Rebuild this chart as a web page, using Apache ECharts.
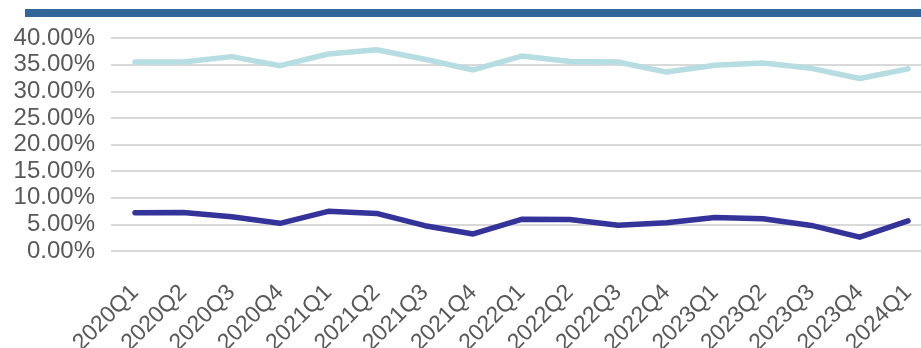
<!DOCTYPE html>
<html>
<head>
<meta charset="utf-8">
<script src="https://cdn.jsdelivr.net/npm/echarts@6/dist/echarts.min.js"></script>
<style>
  html, body { margin: 0; padding: 0; background: #fff; }
  #chart { width: 921px; height: 348px; }
</style>
</head>
<body>
<div id="chart"></div>
<script>
// Quarterly categories
const quarters = [
  '2020Q1', '2020Q2', '2020Q3', '2020Q4',
  '2021Q1', '2021Q2', '2021Q3', '2021Q4',
  '2022Q1', '2022Q2', '2022Q3', '2022Q4',
  '2023Q1', '2023Q2', '2023Q3', '2023Q4',
  '2024Q1'
];

// Upper ratio series (%)
const upperSeries = [
  35.5, 35.5, 36.5, 34.8, 37.0, 37.8, 36.0, 34.0,
  36.6, 35.6, 35.5, 33.6, 34.9, 35.3, 34.3, 32.4, 34.2
];

// Lower ratio series (%)
const lowerSeries = [
  7.2, 7.25, 6.45, 5.2, 7.45, 7.05, 4.75, 3.2,
  5.95, 5.9, 4.85, 5.3, 6.3, 6.05, 4.8, 2.6, 5.65
];

// Value axis ticks
const yTicks = { min: 0, max: 40, step: 5 };

const chart = echarts.init(document.getElementById('chart'), null, { renderer: 'canvas' });

const labelFont = '"Liberation Sans", Arial, sans-serif';
const plotTop = 38;
const plotHeight = 213;

chart.setOption({
  animation: false,
  backgroundColor: '#ffffff',
  graphic: [
    {
      type: 'rect',
      left: 25,
      top: 9,
      shape: { width: 900, height: 8 },
      style: { fill: '#326699' },
      silent: true
    }
  ],
  grid: [
    // background grid: tick labels and horizontal gridlines across the full width
    { left: 111, right: 0, top: plotTop, height: plotHeight, containLabel: false, outerBoundsMode: 'none' },
    // data grid: first/last quarter sit half a step inside the gridlines
    { left: 135, right: 13, top: plotTop, height: plotHeight, containLabel: false, outerBoundsMode: 'none' }
  ],
  xAxis: [
    {
      gridIndex: 0,
      type: 'value',
      min: 0,
      max: 1,
      show: false
    },
    {
      gridIndex: 1,
      type: 'category',
      data: quarters,
      boundaryGap: false,
      axisLine: { show: false },
      axisTick: { show: false },
      splitLine: { show: false },
      axisLabel: {
        rotate: 45,
        margin: 38,
        color: '#595959',
        fontFamily: labelFont,
        fontSize: 23,
        interval: 0
      }
    }
  ],
  yAxis: [
    {
      gridIndex: 0,
      type: 'value',
      min: yTicks.min,
      max: yTicks.max,
      interval: yTicks.step,
      axisLine: { show: false },
      axisTick: { show: false },
      splitLine: { lineStyle: { color: '#d9d9d9', width: 2 } },
      axisLabel: {
        margin: 16,
        color: '#595959',
        fontFamily: labelFont,
        fontSize: 24,
        formatter: v => v.toFixed(2) + '%'
      }
    },
    {
      gridIndex: 1,
      type: 'value',
      min: yTicks.min,
      max: yTicks.max,
      interval: yTicks.step,
      show: false
    }
  ],
  series: [
    {
      type: 'line',
      xAxisIndex: 1,
      yAxisIndex: 1,
      data: upperSeries,
      symbol: 'none',
      lineStyle: { color: '#b6dee2', width: 5.5, cap: 'round', join: 'round' }
    },
    {
      type: 'line',
      xAxisIndex: 1,
      yAxisIndex: 1,
      data: lowerSeries,
      symbol: 'none',
      lineStyle: { color: '#34339a', width: 5.5, cap: 'round', join: 'round' }
    }
  ]
});
</script>
</body>
</html>
